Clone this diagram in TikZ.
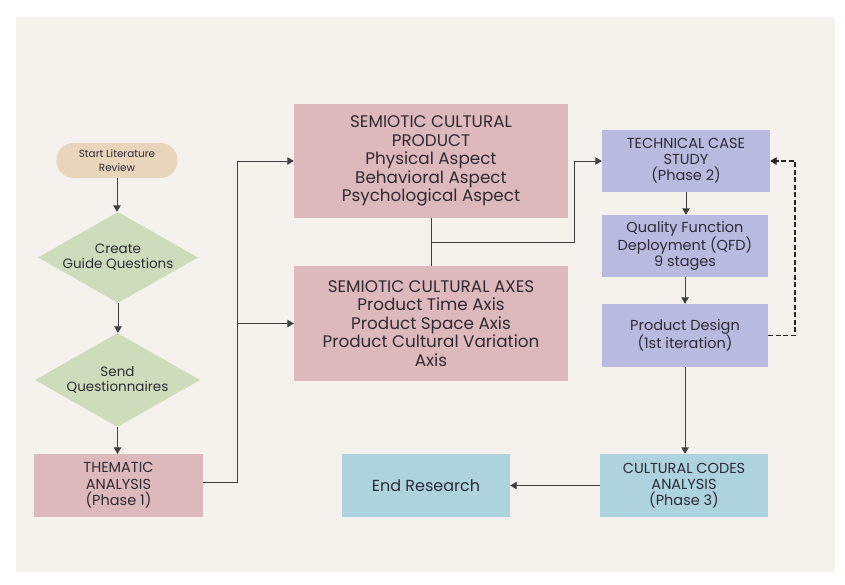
\documentclass[tikz,border=0pt]{standalone}
\usepackage{fontspec}
\setmainfont{Poppins}
\usetikzlibrary{shapes.geometric,arrows.meta}
\definecolor{bgc}{HTML}{F5F2EE}
\definecolor{tanc}{HTML}{E8D5BC}
\definecolor{greenc}{HTML}{CDDDBB}
\definecolor{pinkc}{HTML}{DDB9BB}
\definecolor{lavc}{HTML}{B9BADF}
\definecolor{bluec}{HTML}{ADD3DF}
\definecolor{txtc}{HTML}{2E2A35}
\definecolor{linec}{HTML}{404040}
\begin{document}
\begin{tikzpicture}[x=1pt,y=-1pt,
  box/.style={rectangle,draw=none,align=center,text=txtc,inner sep=0pt},
  pinkbox/.style={box,fill=pinkc,minimum width=274pt,font=\fontsize{16.8}{18.5}\selectfont},
  lavbox/.style={box,fill=lavc,minimum width=167pt,minimum height=62pt,font=\fontsize{14.5}{16}\selectfont},
  bluebox/.style={box,fill=bluec,minimum width=168pt,minimum height=63pt,font=\fontsize{14.5}{16}\selectfont},
  dia/.style={diamond,fill=greenc,draw=none,inner sep=0pt},
  diatext/.style={align=center,text=txtc,font=\fontsize{13.5}{15}\selectfont},
  conn/.style={draw=linec,line width=0.9pt},
  arr/.style={conn,-{Triangle[width=7.5pt,length=6.5pt]}},
  dashconn/.style={draw=black!85,line width=1.3pt,dash pattern=on 5pt off 2.5pt,-{Triangle[width=7.5pt,length=6.5pt]}}]
\fill[white] (0,0) rectangle (845,584);
\useasboundingbox (0,0) rectangle (845,584);
\fill[bgc] (16,17) rectangle (835,572);
% left column
\node[box,fill=tanc,rounded corners=17pt,minimum width=121pt,minimum height=35pt,font=\fontsize{10.4}{13.5}\selectfont] (start) at (117,160.5) {Start Literature\\Review};
\node[dia,minimum width=160pt,minimum height=91pt,label={[diatext]center:Create\\Guide Questions}] (create) at (118,257.5) {};
\node[dia,minimum width=165pt,minimum height=94pt,label={[diatext]center:Send\\Questionnaires}] (send) at (117.5,380) {};
\node[box,fill=pinkc,minimum width=169pt,minimum height=63pt,font=\fontsize{14.5}{16.5}\selectfont] (them) at (118.5,485.5) {THEMATIC\\ANALYSIS\\(Phase 1)};
% middle
\node[pinkbox,minimum height=114pt] (scp) at (431,161) {SEMIOTIC CULTURAL\\PRODUCT\\Physical Aspect\\Behavioral Aspect\\Psychological Aspect};
\node[pinkbox,minimum height=115pt] (axes) at (431,323.5) {SEMIOTIC CULTURAL AXES\\Product Time Axis\\Product Space Axis\\Product Cultural Variation\\Axis};
% right
\node[lavbox,minimum width=168pt] (tcs) at (686,161) {TECHNICAL CASE\\STUDY\\(Phase 2)};
\node[lavbox,minimum width=166pt] (qfd) at (685,246) {Quality Function\\Deployment (QFD)\\9 stages};
\node[lavbox,minimum width=166pt,minimum height=63pt] (pd) at (685,335.5) {Product Design\\(1st iteration)};
\node[bluebox] (cca) at (684,485.5) {CULTURAL CODES\\ANALYSIS\\(Phase 3)};
\node[bluebox,font=\fontsize{16}{18}\selectfont] (endr) at (426,485.5) {End Research};
% connectors
\draw[arr] (start.south) -- (start.south |- create.north);
\draw[arr] (create.south) -- (create.south |- send.north);
\draw[arr] (send.south) -- (send.south |- them.north);
\coordinate (j1) at (237,482);
\draw[arr] (them.east |- j1) -- (j1) |- (scp.west);
\draw[arr] (j1 |- axes.west) -- (axes.west);
\draw[conn] (scp.south) -- (axes.north);
\coordinate (j2) at (431,242);
\coordinate (j3) at (574,242);
\draw[arr] (j2) -- (j3) |- (tcs.west);
\draw[arr] (tcs.south) -- (tcs.south |- qfd.north);
\draw[arr] (qfd.south) -- (qfd.south |- pd.north);
\draw[arr] (pd.south) -- (pd.south |- cca.north);
\draw[arr] (cca.west) -- (endr.east);
\coordinate (j4) at (795,335.5);
\draw[dashconn] (pd.east) -- (j4) |- (tcs.east);
\end{tikzpicture}
\end{document}
